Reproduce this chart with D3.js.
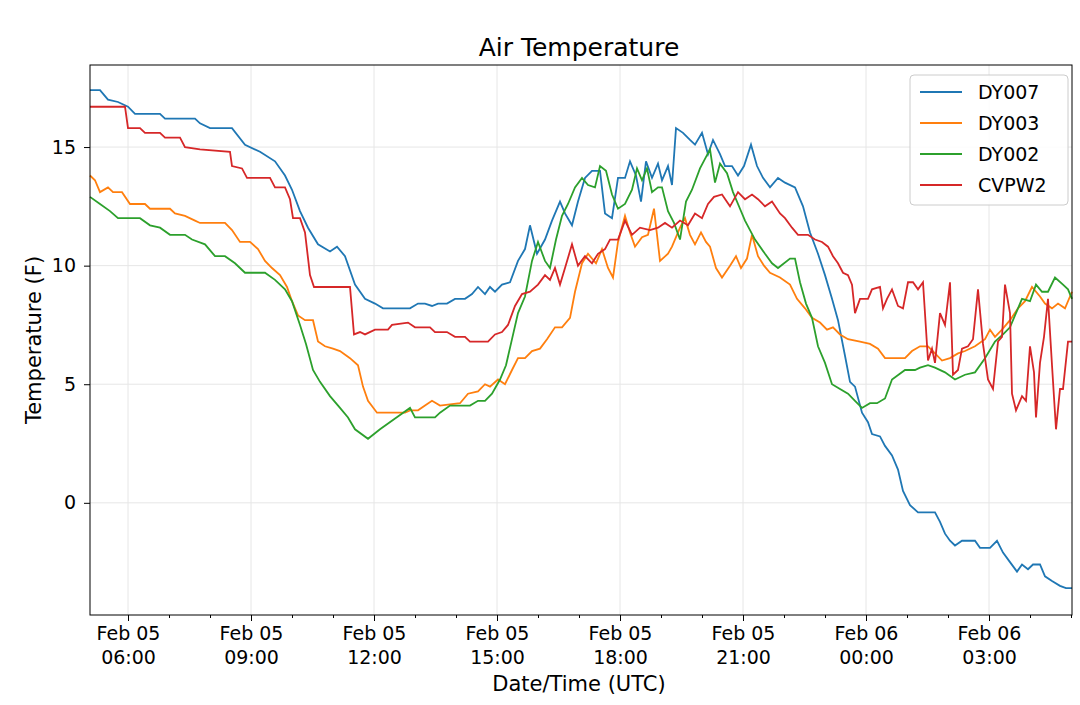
<!DOCTYPE html>
<html><head><meta charset="utf-8">
<script src="https://cdn.jsdelivr.net/npm/d3@7"></script>
<style>body{margin:0;background:#fff;font-family:"DejaVu Sans",sans-serif}</style>
</head><body><svg id="chart" width="1080" height="705"></svg>
<script>
// readings: time offsets from Feb 05 05:00 in steps of 1/41 hour, temperatures in F
var series = ["DY007", "DY003", "DY002", "CVPW2"];
var colors = ["#1f77b4", "#ff7f0e", "#2ca02c", "#d62728"];

var t007 = [3,13,21,31,41,48,73,78,108,113,123,145,158,173,188,198,205,213,221,231,243,250,258,268,278,288,296,323,331,338,345,351,360,368,378,385,391,398,403,408,415,423,431,438,443,450,458,465,473,478,485,491,498,505,513,518,525,531,538,543,549,554,559,565,571,575,581,585,589,596,603,608,615,621,626,633,638,645,651,657,664,670,676,683,691,698,708,716,723,731,738,745,751,758,763,768,775,781,785,793,798,805,811,816,823,831,848,853,858,863,868,875,888,893,903,910,916,923,930,935,941,946,953,958,965,973,979,985];
var v007 = [17.4,17.4,17.0,16.9,16.7,16.4,16.4,16.2,16.2,16.0,15.8,15.8,15.1,14.8,14.4,13.8,13.2,12.3,11.6,10.9,10.6,10.8,10.4,9.2,8.6,8.4,8.2,8.2,8.4,8.4,8.3,8.4,8.4,8.6,8.6,8.8,9.1,8.8,9.1,8.9,9.2,9.3,10.2,10.7,11.7,10.5,11.1,11.9,12.7,12.2,11.7,12.7,13.7,14.0,14.0,12.2,12.0,13.7,13.7,14.4,13.8,12.7,14.4,13.7,14.3,13.6,14.2,13.4,15.8,15.6,15.3,15.1,15.6,14.7,15.3,14.7,14.2,14.2,13.8,14.2,15.1,14.2,13.7,13.3,13.7,13.5,13.3,12.5,11.4,10.5,9.6,8.6,7.7,6.2,5.1,4.9,3.8,3.4,2.9,2.8,2.4,2.0,1.4,0.5,-0.1,-0.4,-0.4,-0.8,-1.3,-1.6,-1.8,-1.6,-1.6,-1.9,-1.9,-1.6,-2.1,-2.5,-2.9,-2.6,-2.8,-2.6,-2.6,-3.1,-3.3,-3.5,-3.6,-3.6];

var t003 = [3,8,13,21,26,35,43,58,63,83,88,98,108,113,138,145,153,163,171,178,185,193,200,205,211,218,226,231,238,246,253,263,271,276,281,290,318,323,331,338,345,353,373,381,391,398,403,411,418,425,431,438,445,453,460,468,475,483,488,495,501,509,515,521,526,531,538,543,548,555,561,567,573,581,585,593,598,603,608,614,619,623,629,635,643,649,654,660,665,671,677,683,693,703,710,718,725,733,740,746,753,761,773,783,791,798,818,825,833,841,848,855,863,871,878,888,898,903,908,915,923,931,938,945,953,958,965,971,978,985];
var v003 = [13.8,13.6,13.1,13.3,13.1,13.1,12.6,12.6,12.4,12.4,12.2,12.1,11.9,11.8,11.8,11.5,11.0,11.0,10.7,10.2,9.9,9.6,9.1,8.5,7.9,7.7,7.7,6.8,6.6,6.5,6.4,6.1,5.8,4.9,4.3,3.8,3.8,3.9,3.9,4.1,4.3,4.1,4.2,4.6,4.7,5.0,4.9,5.2,5.0,5.6,6.1,6.1,6.4,6.5,6.9,7.4,7.4,7.8,8.9,10.1,10.5,10.1,10.7,9.9,9.5,11.0,12.1,11.4,10.8,11.2,11.3,12.4,10.2,10.5,10.8,11.6,12.0,11.3,10.9,11.4,11.0,10.8,9.9,9.5,10.0,10.4,9.9,10.3,11.3,10.4,10.0,9.7,9.5,9.2,8.6,8.2,7.8,7.6,7.3,7.4,7.1,6.9,6.8,6.7,6.5,6.1,6.1,6.4,6.6,6.6,6.3,6.0,6.1,6.3,6.4,6.6,6.9,7.3,7.0,7.3,7.7,8.2,8.5,9.1,8.7,8.4,8.2,8.4,8.2,8.9];

var t002 = [3,13,23,31,53,63,73,83,98,105,118,128,138,148,158,178,188,198,205,213,219,226,233,243,253,261,268,281,293,313,323,328,348,353,363,383,391,398,405,413,419,425,431,438,445,451,458,463,469,475,481,488,495,501,508,513,519,525,531,538,545,550,555,560,565,571,575,581,587,593,599,605,613,618,623,628,633,640,646,653,658,668,678,685,691,703,708,713,719,725,731,738,745,753,761,768,775,783,790,798,805,818,828,833,841,848,858,868,878,888,898,908,916,923,928,935,943,949,955,961,968,976,981,985];
var v002 = [12.9,12.6,12.3,12.0,12.0,11.7,11.6,11.3,11.3,11.1,10.9,10.4,10.4,10.1,9.7,9.7,9.4,9.0,8.5,7.5,6.7,5.6,5.1,4.5,4.0,3.6,3.1,2.7,3.1,3.7,4.0,3.6,3.6,3.8,4.1,4.1,4.3,4.3,4.6,5.2,5.8,6.9,8.0,8.7,10.2,11.0,10.2,9.9,11.1,12.1,12.6,13.3,13.7,13.4,13.3,14.2,14.0,13.0,12.4,12.6,13.2,14.1,13.6,14.1,13.1,13.3,13.3,12.3,11.8,11.1,12.7,13.2,14.1,14.5,14.9,13.5,14.3,13.9,13.1,12.4,11.9,11.1,10.5,10.1,9.9,10.3,10.3,9.3,8.4,7.8,6.6,5.9,5.0,4.8,4.6,4.3,4.0,4.2,4.2,4.4,5.2,5.6,5.6,5.7,5.8,5.7,5.5,5.2,5.4,5.5,6.1,6.8,7.1,7.4,7.9,8.6,8.5,9.2,8.9,8.9,9.5,9.2,9.0,8.6,8.9];

var tcv = [3,38,41,53,58,73,78,93,98,113,143,145,155,160,183,188,198,203,206,213,218,223,227,263,267,273,278,288,301,305,321,328,343,348,360,368,378,383,401,408,415,421,428,435,443,451,458,463,468,473,478,485,491,498,505,511,518,523,531,538,545,553,563,571,578,585,593,601,608,615,621,627,635,643,651,658,665,671,678,685,693,698,705,711,721,728,735,741,746,751,756,761,765,768,773,781,785,793,796,800,805,811,816,821,826,831,836,841,845,848,853,858,863,866,871,875,881,886,891,896,901,906,911,915,918,923,925,929,935,939,943,947,949,953,957,961,965,969,973,976,981,985];
var vcv = [16.7,16.7,15.8,15.8,15.6,15.6,15.4,15.4,15.0,14.9,14.8,14.2,14.1,13.7,13.7,13.3,13.3,12.8,12.0,12.0,11.4,9.6,9.1,9.1,7.1,7.2,7.1,7.3,7.3,7.5,7.6,7.4,7.4,7.2,7.2,7.0,7.0,6.8,6.8,7.1,7.2,7.5,8.3,8.8,8.9,9.2,9.6,9.4,9.9,9.2,9.9,10.9,10.0,10.4,10.1,10.5,10.7,11.1,11.1,11.9,11.3,11.6,11.5,11.6,11.8,11.6,11.9,11.7,12.2,12.0,12.6,12.9,13.0,12.5,13.1,12.8,13.0,12.8,12.5,12.7,12.2,12.0,11.6,11.3,11.3,11.1,11.0,10.8,10.4,10.1,9.7,9.6,9.2,8.0,8.6,8.6,9.0,9.1,8.2,8.6,9.0,8.3,8.2,9.3,9.3,9.0,9.3,6.0,6.5,5.9,8.0,7.5,9.3,5.4,5.6,6.5,6.6,6.9,9.0,6.7,5.2,4.8,6.8,7.0,9.2,8.0,4.6,3.9,4.5,4.3,6.6,5.5,3.6,5.9,7.0,8.6,5.8,3.1,4.8,4.8,6.8,6.8];

var yTicks = [0, 5, 10, 15];

var svg = d3.select("#chart");
var m = {l: 90, r: 1072, t: 65, b: 615};
var base = new Date(2020, 1, 5, 5, 0);
function toDate(u) { return new Date(base.getTime() + u / 41 * 3600000); }

var x = d3.scaleTime().domain([toDate(3), toDate(985)]).range([m.l, m.r]);
var y = d3.scaleLinear().domain([-4.73, 18.46]).range([m.b, m.t]);

// grid
svg.append("g").selectAll("line").data(x.ticks(d3.timeHour.every(3))).join("line")
  .attr("x1", d => x(d)).attr("x2", d => x(d)).attr("y1", m.t).attr("y2", m.b)
  .attr("stroke", "#e6e6e6");
svg.append("g").selectAll("line").data(yTicks).join("line")
  .attr("x1", m.l).attr("x2", m.r).attr("y1", d => y(d)).attr("y2", d => y(d))
  .attr("stroke", "#e6e6e6");

var line = d3.line().x(d => x(d[0])).y(d => y(d[1]));
var all = [[t007, v007], [t003, v003], [t002, v002], [tcv, vcv]];
all.forEach(function(s, i) {
  var pts = s[0].map((t, j) => [toDate(t), s[1][j]]);
  svg.append("path").datum(pts).attr("d", line).attr("fill", "none")
    .attr("stroke", colors[i]).attr("stroke-width", 1.8);
});

// frame
svg.append("rect").attr("x", m.l).attr("y", m.t).attr("width", m.r - m.l).attr("height", m.b - m.t)
  .attr("fill", "none").attr("stroke", "#000").attr("stroke-width", 1);

// axes
var fmt = d3.timeFormat("%H:%M");
var xa = svg.append("g").attr("transform", "translate(0," + m.b + ")")
  .call(d3.axisBottom(x).ticks(d3.timeHour.every(3)).tickSize(6).tickFormat(""));
xa.select(".domain").remove();
svg.append("g").attr("transform", "translate(0," + m.b + ")")
  .call(d3.axisBottom(x).ticks(d3.timeHour.every(1)).tickSize(3).tickFormat(""))
  .select(".domain").remove();
xa.selectAll(".tick").each(function(d) {
  var g = d3.select(this).append("text").attr("fill", "#000").attr("font-size", 19)
    .attr("text-anchor", "middle").attr("font-family", "DejaVu Sans");
  g.append("tspan").attr("x", 0).attr("y", 25).text(d3.timeFormat("%b %d")(d));
  g.append("tspan").attr("x", 0).attr("y", 49).text(fmt(d));
});
var ya = svg.append("g").attr("transform", "translate(" + m.l + ",0)")
  .call(d3.axisLeft(y).tickValues(yTicks).tickSize(6).tickPadding(8));
ya.select(".domain").remove();
ya.selectAll("text").attr("font-size", 19).attr("font-family", "DejaVu Sans");

svg.append("text").attr("x", (m.l + m.r) / 2 - 2).attr("y", 56).attr("text-anchor", "middle")
  .attr("font-size", 25).text("Air Temperature");
svg.append("text").attr("x", (m.l + m.r) / 2 - 2).attr("y", 691).attr("text-anchor", "middle")
  .attr("font-size", 21).text("Date/Time (UTC)");
svg.append("text").attr("transform", "translate(41," + (m.t + m.b) / 2 + ") rotate(-90)")
  .attr("text-anchor", "middle").attr("font-size", 21).text("Temperature (F)");

// legend
var lg = svg.append("g").attr("transform", "translate(910,75)");
lg.append("rect").attr("width", 158).attr("height", 130).attr("rx", 4)
  .attr("fill", "#fff").attr("fill-opacity", 0.85).attr("stroke", "#ccc");
series.forEach(function(n, i) {
  lg.append("line").attr("x1", 10).attr("x2", 52).attr("y1", 17 + i * 31).attr("y2", 17 + i * 31)
    .attr("stroke", colors[i]).attr("stroke-width", 2);
  lg.append("text").attr("x", 68).attr("y", 24 + i * 31).attr("font-size", 19).text(n);
});
</script></body></html>
